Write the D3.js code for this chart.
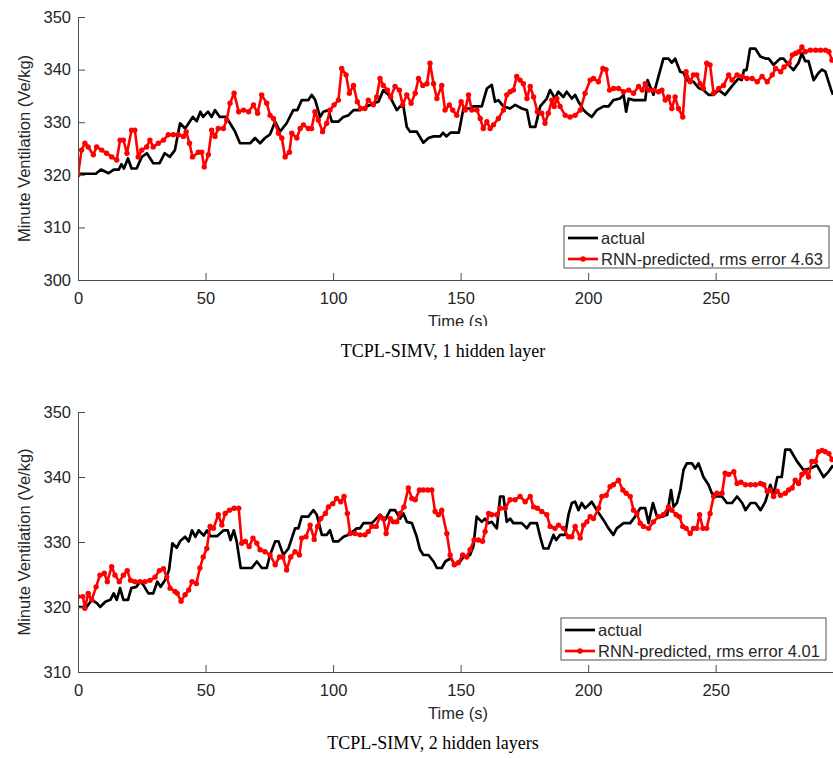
<!DOCTYPE html>
<html>
<head>
<meta charset="utf-8">
<script src="https://d3js.org/d3.v7.min.js"></script>
<style>
  body { margin: 0; background: #fff; }
  svg text { font-family: 'Liberation Sans', Arial, Helvetica, sans-serif; fill: #262626; }
  svg text.caption { font-family: 'Liberation Serif', 'Times New Roman', serif; fill: #000; }
</style>
</head>
<body>
<svg id="chart" width="833" height="758"></svg>
<script>
/* global d3 */
(function () {
  'use strict';

  // x ticks (seconds) and y ticks for each panel
  var timeTicks = [0, 50, 100, 150, 200, 250];
  var yTicksTop = [300, 310, 320, 330, 340, 350];
  var yTicksBottom = [310, 320, 330, 340, 350];

  var captions = ['TCPL-SIMV, 1 hidden layer', 'TCPL-SIMV, 2 hidden layers'];
  var rmsErrors = ['4.63', '4.01'];

  // [time (s), minute ventilation]
  var actual1 = [[0,320.2],[7,320.2],[9,321],[12,320.3],[14,321],[16,321],[17,322],[18,321.2],[19.6,323.1],[21,321.2],[23,321.2],[25,323.4],[27,324.1],[29.5,322.2],[32,322.2],[34,324.1],[36,323.4],[38,324.7],[40,329.8],[42,328.8],[45,331],[46.5,330.2],[48,332],[49,331],[51,332],[52.4,331],[53.7,332.3],[55.6,331],[58,331],[59.6,329.8],[61.6,328.2],[63.5,326],[67.5,326],[69.4,327],[71.4,326],[73.3,327],[75.3,327.7],[77.3,330.1],[79.2,328.2],[81.8,329.8],[84.4,332.3],[86,332.3],[87.7,334.2],[90.3,334.2],[91.6,335.2],[93,334.2],[94.9,331],[96.2,332],[98.2,332.3],[99.5,330.1],[102,330.1],[104,331],[106,331.3],[108,332.3],[110.6,332.3],[113.2,333],[115.8,333.6],[117.8,333.9],[119.7,336.1],[121.7,335.2],[123,334.2],[125,332.3],[126.3,333],[127.6,333],[128.9,329.1],[130.2,328.2],[132.8,328.2],[135.4,326.1],[137.4,327],[139.4,327.3],[142,327.3],[143.1,328],[144.4,327.3],[146,328],[149.3,328],[151.1,332.6],[153.7,332.6],[155,333],[158.3,333],[160.3,336.4],[162.2,337.1],[163.5,333.9],[164.8,334.2],[166.8,333],[169.4,332.6],[171.4,333.3],[174,332.6],[176,332.3],[177.3,329.1],[179.3,329.1],[181.2,333],[183.8,334.5],[185.1,336.1],[187,334.5],[188.3,335.8],[190.3,334.8],[191.6,335.8],[193.6,334.5],[194.9,335.2],[196.2,333.9],[198.2,332.3],[199.5,331.7],[201.4,331],[203.4,332.3],[206,333],[208,333],[209.9,334.2],[212.5,334.5],[213.9,335.2],[214.9,332],[215.9,334.5],[217.8,334.2],[222.4,334.2],[223.3,338],[224.3,336.8],[225.6,335.2],[227.6,338.7],[229.5,342.1],[231.5,342.1],[232.8,341.3],[234.1,342.1],[236.1,339.6],[237.4,339.4],[238.7,338],[241.3,337.7],[243.3,336.5],[245.2,336.1],[247.2,335.2],[249.2,335.2],[251.2,336.1],[253.7,335.2],[256.3,336.8],[258.9,338.3],[260.2,338],[261.1,339.9],[262.1,339.9],[263.5,344],[265.5,344],[267.5,342.5],[269.5,342.1],[270.8,342.1],[272.7,340.9],[275.3,342.1],[276.6,342.1],[278.6,340.9],[280.5,339.9],[282.5,341.3],[283.8,343.1],[285.1,341.6],[286.4,341.6],[288.4,338],[290.4,339.4],[291.7,340],[293,339.6],[295.3,336.1],[296,335.2]];

  var predicted1 = [[0,320],[1.4,324.7],[2.7,326],[4,325.3],[6,323.8],[7.3,325.3],[9.3,324.7],[11.2,324.1],[13.2,323.4],[15.2,322.8],[16.5,326.6],[17.8,326.6],[19.2,324.1],[21,328.5],[22.3,328.5],[23.6,323.4],[25,324.7],[26.9,325.3],[28.2,326.6],[29.5,325.3],[31.5,326],[33.5,326.6],[35.4,327.6],[37.4,327.6],[39.3,327.6],[41.3,327.3],[42.4,328.2],[43.7,326],[44.9,323.4],[47.2,324.3],[48.5,324.3],[49.5,321.5],[51.1,323.8],[52.4,328.5],[53.7,327.3],[55,328.8],[57,328.8],[58.3,330.4],[59.6,333.6],[61.2,335.5],[63,332],[64.9,332.3],[66.9,332],[68.8,333.3],[70.4,331.7],[72,335.2],[74,333.6],[75.3,331.3],[76.6,330.7],[78.6,327.9],[79.9,327],[81.2,323.4],[82.9,324.3],[83.8,327.9],[85.8,327],[87.1,328.8],[88.4,329.5],[90.3,328.8],[91.6,328.8],[92.9,332],[94.2,330.4],[95.9,328.2],[97.5,329.8],[98.8,332.3],[100.4,333.3],[102.1,334.2],[103.4,340.2],[105.1,339],[106.4,335.5],[108,337],[109.5,333.9],[110.8,332.6],[112.5,332.6],[113.8,334.2],[115.8,333.3],[117.1,334.8],[118.4,338.3],[119.7,337],[121.3,336.1],[122.6,334.8],[124.3,336.8],[126,336.1],[127.3,333.3],[128.9,335.2],[130.6,333.6],[132.2,335.5],[133.5,338.3],[135.2,337],[136.8,337.3],[138,341.2],[139.4,337.3],[140.7,334.5],[142.6,337],[143.9,332.3],[145.6,333.3],[146.9,332.3],[148.5,331.3],[150.2,333.9],[151.8,332.3],[153.1,335.2],[154.4,332.3],[156.4,332.3],[157.7,330.7],[158.9,328.8],[160.3,330.1],[161.6,328.8],[162.9,329.5],[164.8,330.7],[166.8,332.3],[168.1,335.2],[169.4,335.8],[170.7,336.1],[172,338.7],[173.3,338],[174.6,337.3],[176,334.5],[177.3,336.8],[178.6,334.8],[180.1,332],[181.8,331.7],[183.1,329.8],[184.4,331.7],[185.8,334.2],[186.7,333],[187.7,334.5],[189,333],[191,331.3],[192.9,331],[194.9,331.3],[196.9,332.3],[198.8,335.5],[200.8,338],[202.1,338.3],[204,337.7],[205.8,340.2],[207,340],[208.4,336.1],[210,336.4],[211.9,336.4],[213.9,335.8],[215.9,336.1],[217.8,335.5],[219.8,336.8],[221.2,336.1],[222.4,337.3],[223.7,336.1],[225.6,336.1],[227.6,335.8],[228.9,336.1],[230.2,334.2],[231.5,334.8],[232.8,332.6],[234.1,334.8],[235.4,332.6],[237.1,331],[238.4,339.6],[240,337.7],[241.3,339],[242.6,339],[243.9,337.3],[245.2,336.4],[246.5,341.2],[247.8,340.9],[249.2,335.5],[251.2,336.4],[253.1,337],[255.1,339],[256.4,338],[258.4,339],[260.4,338.7],[262.3,338.3],[264.3,338.3],[266.3,337.7],[268.2,338.7],[270.2,337.7],[272.2,339],[273.5,340.2],[275.5,339.6],[276.8,340.5],[278.8,341.2],[280.1,342.8],[281.4,343.1],[282.7,343.4],[283.8,344.3],[285.1,343.4],[287.1,343.7],[289.2,343.7],[291.1,343.7],[293.1,343.7],[294.4,343.4],[295.6,341.8]];

  var actual2 = [[0,320],[3.4,320],[5.4,321.1],[7.4,320.6],[8.7,320],[10.7,320.8],[12.7,321.1],[14,322.1],[15.2,321.1],[16.5,322.9],[17.8,321.1],[19.6,321.1],[20.9,322.9],[22.9,323.1],[24.3,323.9],[25.6,323.4],[27.6,322.1],[29.5,322.1],[31.1,323.9],[32.4,323.1],[34.1,324.1],[35.7,325.7],[37,329.8],[38.7,329.1],[40,330.1],[42,330.8],[43.4,330.1],[44.7,331.8],[46,330.8],[47.3,331.8],[49.3,331],[50.6,331.8],[51.9,330.9],[54.5,330.9],[57.1,331.8],[58.7,331.8],[59.8,330.3],[61.1,331.8],[62.2,330.1],[63.8,326],[68.1,326],[70.1,327],[72.1,326],[74,326],[75.3,328],[77.3,330.1],[78.6,330.1],[80.5,328],[82.5,329],[85.1,332.1],[86.4,332.1],[87.7,333.9],[90.3,333.9],[92.3,334.9],[93.6,334.2],[95.6,331.1],[97.5,331.1],[98.8,331.8],[100.1,330.1],[102.1,330.1],[104.1,330.8],[106.1,331.1],[109.3,332.1],[110.6,332.1],[111.9,332.9],[115.2,332.9],[116.5,333.4],[118.4,334.2],[120.4,333.4],[122.4,334.9],[124.3,334.9],[126.3,333.6],[127.6,334.4],[128.9,333.1],[130.9,332.9],[132.8,330.8],[134.1,328.8],[135.4,328],[137.4,328],[139.4,327],[140.7,326],[142.6,326],[144,327],[146,327.5],[148,326.5],[149.5,326.8],[151.1,327.7],[153.7,328],[155,329.3],[156.3,333.9],[158.3,333.1],[159.6,333.6],[160.9,332.9],[162.2,333.1],[164.2,332.1],[165.5,337],[166.8,337],[168.1,333.1],[169.4,333.6],[170.7,332.9],[174,332.9],[176,332.1],[177.3,332.9],[179.9,332.9],[181.2,330.8],[182.5,329],[184.4,329],[186.4,331.1],[187.5,330.3],[189,331.1],[191,331.1],[192.3,334.2],[193.6,336],[194.9,336.2],[196.2,334.9],[197.5,336],[198.8,335.2],[200.2,335.7],[201.4,336.2],[203.4,334.9],[206,333.4],[208,332.1],[209.9,331.1],[211.2,332.1],[213.9,332.9],[216.5,332.9],[218.4,333.9],[220.4,335.2],[222.4,335.2],[223.7,332.9],[225.4,336],[227,333.9],[229,333.9],[231,334.2],[232.5,338],[233.5,335.4],[234.8,336],[236.1,338],[237.4,341.1],[238.7,342.1],[240.7,342.1],[242,341.3],[243.3,342.1],[245.2,340],[247.2,338.8],[248.5,337.5],[250.5,337],[252.5,337],[254.4,336],[256.4,336],[258.4,337],[260.4,336],[261.7,334.9],[263.7,336],[265.6,336],[267.6,334.9],[269.5,336.2],[271.4,338.8],[272.7,337.3],[274.2,340],[275.9,340],[277.3,344.2],[279.2,344.2],[281.9,342.4],[284.4,341.1],[287.1,341.3],[289.7,341.8],[292.3,340],[294.2,340.8],[296,341.8]];

  var predicted2 = [[0,321.6],[1.9,321.6],[2.7,319.8],[4,322.1],[5.4,321.1],[7.1,323.1],[8.6,324.9],[10.3,325.2],[11.5,323.9],[13.2,326.2],[14.5,324.9],[16.2,323.9],[17.8,324.9],[19.3,325.6],[20.6,324.1],[22.3,323.9],[24.3,323.9],[26.3,323.9],[28.2,324.1],[30.2,324.6],[31.9,325.6],[33.5,325.9],[34.8,324.6],[36.1,322.9],[38,322.4],[38.9,322.1],[40.4,320.9],[42,321.9],[43.4,322.6],[44.7,323.9],[46.4,323.6],[47.8,326],[49.1,327.7],[50.5,329],[51.8,332.4],[53.1,332.1],[55,334.2],[56.4,332.6],[57.7,334.4],[59.4,334.9],[61.2,335.2],[63,335.2],[64.2,329.8],[65.6,330.1],[67.1,329.3],[68.6,330.6],[70.1,329.8],[71.4,328.8],[73.3,328.5],[75.3,328],[77.3,326.5],[79,327.7],[80.3,327.7],[81.8,325.7],[83.4,327.7],[85.1,328.5],[86.8,328],[87.7,330.6],[89.4,330.8],[91,332.6],[92.6,330.4],[93.9,332.4],[95.2,333.6],[97,334.4],[98.2,335.4],[99.9,335.9],[101.4,336.7],[103,336.2],[104.3,337],[105.6,334.4],[106.7,331.3],[108.6,331.3],[110.6,331.1],[112.5,331.1],[113.8,331.6],[115.2,332.4],[116.9,332.4],[118.4,333.9],[119.7,333.6],[120.8,331.3],[122.4,333.6],[123.7,333.1],[125,333.1],[126.3,334.4],[127.8,335.4],[129.5,338.3],[130.9,336.7],[132.2,336.5],[133.9,338],[135.4,338],[137.1,338],[138.7,338],[140,334.7],[141.3,334.2],[142.6,334.9],[144.6,331.3],[145.9,328],[147.5,326.5],[149.1,326.8],[150.8,328],[152.4,327.7],[153.7,328.8],[155.3,330.3],[157,330.3],[158.6,330.1],[159.6,331.6],[161,334.4],[162.2,334.2],[164.2,334.2],[165.5,335.2],[167.5,335.2],[169.4,336.5],[171.4,336.5],[173.3,337],[175.3,336.2],[177.3,337],[178.6,335.4],[180.1,335.2],[181.8,334.7],[183.8,334.2],[185.1,332.4],[187,332.1],[188.4,332.6],[190.3,332.1],[192.3,330.8],[193.6,330.8],[194.9,332.4],[196.9,330.6],[198.2,332.6],[199.5,333.1],[200.8,333.9],[202.1,333.6],[204.1,335.2],[205.4,337],[207.1,337.2],[208.6,338.5],[209.9,338.8],[211.9,339.5],[213.6,338],[214.9,337.5],[216.5,337],[217.8,334.9],[219.1,334.4],[220.4,332.9],[221.7,332.4],[223.7,332.1],[225.6,333.1],[227.6,333.9],[229.5,334.2],[231.5,335.4],[232.8,334.9],[234.5,334.2],[235.8,333.9],[237.1,332.4],[238.4,332.1],[240,331.3],[241.3,332.1],[242.6,332.1],[243.7,334.2],[245,332.1],[246.5,332.1],[247.8,334.4],[249.2,337],[250.5,337.5],[252.5,337.5],[253.7,340.6],[255.1,340.4],[257.1,340.8],[258.4,339],[259.9,339.2],[261.7,338.8],[263.7,338.8],[265.6,338.8],[267.6,339],[268.9,338.8],[270.2,337.8],[271.4,338],[272.7,337],[274.1,337.8],[275.4,337.2],[277.3,337.5],[278.6,338],[280,338.3],[281.2,339.5],[282.5,339],[283.8,340.4],[285.1,340.8],[286.4,340],[287.7,342.4],[289.1,342.4],[290.4,343.9],[291.7,344.1],[293,343.9],[294.4,343.6],[295.6,342.7]];

  var svg = d3.select('#chart');
  var x = d3.scaleLinear().domain([0, 296]).range([78, 833]);
  var fontSize = 16.5;

  /**
   * Draw one panel: axes, both series, legend and caption
   * @param {object} p - panel settings
   */
  function drawPanel (p) {
    var y = d3.scaleLinear().domain([p.yTicks[0], 350]).range([p.bottom, p.top]);
    var g = svg.append('g');
    var clipId = 'clip' + p.index;

    g.append('clipPath').attr('id', clipId)
      .append('rect')
      .attr('x', x.range()[0]).attr('y', p.top - 5)
      .attr('width', x.range()[1] - x.range()[0] + 5)
      .attr('height', p.bottom - p.top + 5);

    var line = d3.line()
      .x(function (d) { return x(d[0]); })
      .y(function (d) { return y(d[1]); });

    var plot = g.append('g').attr('clip-path', 'url(#' + clipId + ')');

    plot.append('path')
      .datum(p.actual)
      .attr('fill', 'none')
      .attr('stroke', '#000')
      .attr('stroke-width', 2.7)
      .attr('stroke-linejoin', 'round')
      .attr('d', line);

    plot.append('path')
      .datum(p.predicted)
      .attr('fill', 'none')
      .attr('stroke', '#ff0000')
      .attr('stroke-width', 2.6)
      .attr('stroke-linejoin', 'round')
      .attr('d', line);

    plot.selectAll('circle.pt')
      .data(p.predicted)
      .enter().append('circle')
      .attr('class', 'pt')
      .attr('cx', function (d) { return x(d[0]); })
      .attr('cy', function (d) { return y(d[1]); })
      .attr('r', 2.7)
      .attr('fill', '#ff0000');

    // axes, ticks pointing inwards
    var xAxis = g.append('g')
      .attr('transform', 'translate(0,' + p.bottom + ')')
      .call(d3.axisBottom(x).tickValues(timeTicks).tickSizeInner(-7).tickSizeOuter(0).tickPadding(12.5));
    var yAxis = g.append('g')
      .attr('transform', 'translate(' + x.range()[0] + ',0)')
      .call(d3.axisLeft(y).tickValues(p.yTicks).tickSizeInner(-7).tickSizeOuter(0).tickPadding(7));

    [xAxis, yAxis].forEach(function (a) {
      a.attr('font-size', fontSize).attr('font-family', null);
      a.select('.domain').attr('stroke', '#4d4d4d');
      a.selectAll('.tick line').attr('stroke', '#4d4d4d');
      a.selectAll('.tick text').attr('fill', '#262626');
    });

    g.append('text')
      .attr('transform', 'translate(30,' + ((p.top + p.bottom) / 2) + ') rotate(-90)')
      .attr('text-anchor', 'middle')
      .attr('font-size', fontSize)
      .text('Minute Ventilation (Ve/kg)');

    var xl = g.append('text')
      .attr('x', 458)
      .attr('y', p.bottom + 47)
      .attr('text-anchor', 'middle')
      .attr('font-size', fontSize)
      .text('Time (s)');
    if (p.cutLabel) {
      g.append('clipPath').attr('id', clipId + 'l')
        .append('rect').attr('x', 0).attr('y', 0).attr('width', 833).attr('height', p.cutLabel);
      xl.attr('clip-path', 'url(#' + clipId + 'l)');
    }

    // legend
    var lg = g.append('g').attr('transform', 'translate(' + p.legendX + ',' + (p.bottom - 54) + ')');
    lg.append('rect')
      .attr('width', 265).attr('height', 42)
      .attr('fill', '#fff')
      .attr('stroke', '#262626')
      .attr('stroke-width', 0.8);
    var rows = [
      { label: 'actual', color: '#000', marker: false },
      { label: 'RNN-predicted, rms error ' + p.rms, color: '#ff0000', marker: true }
    ];
    var row = lg.selectAll('g.row')
      .data(rows)
      .enter().append('g')
      .attr('class', 'row')
      .attr('transform', function (d, i) { return 'translate(0,' + (12 + i * 21) + ')'; });
    row.append('line')
      .attr('x1', 4).attr('x2', 34)
      .attr('stroke', function (d) { return d.color; })
      .attr('stroke-width', 2.7);
    row.filter(function (d) { return d.marker; })
      .append('circle')
      .attr('cx', 19).attr('r', 2.7)
      .attr('fill', '#ff0000');
    row.append('text')
      .attr('x', 37)
      .attr('dy', '0.35em')
      .attr('font-size', fontSize)
      .text(function (d) { return d.label; });

    svg.append('text')
      .attr('class', 'caption')
      .attr('x', p.captionX)
      .attr('y', p.bottom + 77)
      .attr('text-anchor', 'middle')
      .attr('font-size', 18)
      .text(p.caption);
  }

  drawPanel({
    index: 1, top: 17, bottom: 280, yTicks: yTicksTop,
    actual: actual1, predicted: predicted1, rms: rmsErrors[0],
    caption: captions[0], captionX: 443, legendX: 564, cutLabel: 326
  });
  drawPanel({
    index: 2, top: 412, bottom: 672, yTicks: yTicksBottom,
    actual: actual2, predicted: predicted2, rms: rmsErrors[1],
    caption: captions[1], captionX: 433, legendX: 561, cutLabel: 0
  });
}());
</script>
</body>
</html>
